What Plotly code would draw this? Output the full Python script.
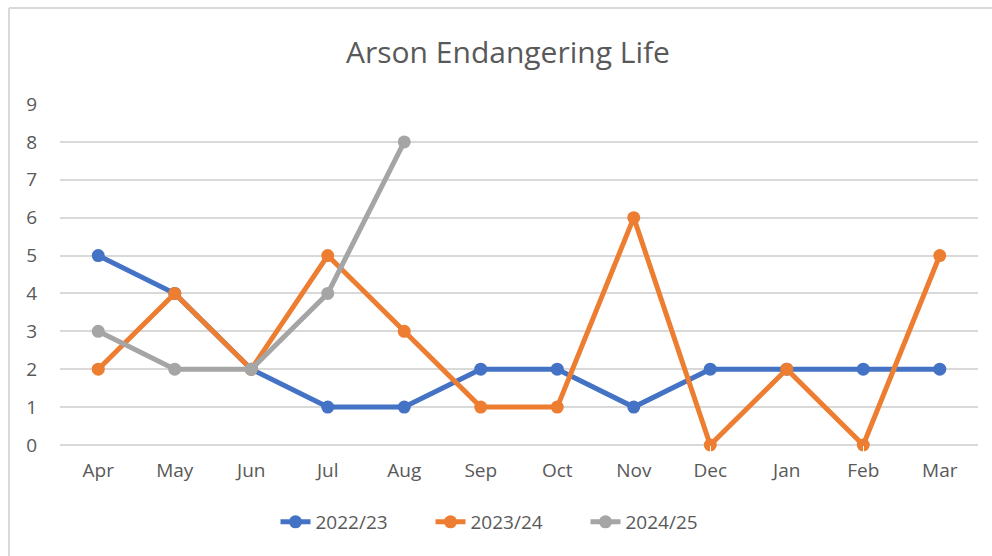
import plotly.graph_objects as go

months = ["Apr", "May", "Jun", "Jul", "Aug", "Sep", "Oct", "Nov", "Dec", "Jan", "Feb", "Mar"]
s2223 = [5, 4, 2, 1, 1, 2, 2, 1, 2, 2, 2, 2]
s2324 = [2, 4, 2, 5, 3, 1, 1, 6, 0, 2, 0, 5]
s2425 = [3, 2, 2, 4, 8]
series = [("2022/23", s2223, "#4472C4"), ("2023/24", s2324, "#ED7D31"), ("2024/25", s2425, "#A5A5A5")]

fig = go.Figure()
for name, vals, col in series:
    fig.add_trace(go.Scatter(
        x=months[:len(vals)], y=vals, name=name, mode="lines+markers", cliponaxis=False,
        line=dict(color=col, width=5), marker=dict(color=col, size=13),
    ))

W, H = 992, 556
L, R, T, B = 60, 14, 104, 111
pw, ph = W - L - R, H - T - B
def px(x): return (x - L) / pw
def py(y): return (H - B - y) / ph

fig.update_layout(
    width=W, height=H,
    margin=dict(l=L, r=R, t=T, b=B),
    paper_bgcolor="white", plot_bgcolor="white",
    font=dict(family="Open Sans, Noto Sans, sans-serif", color="#595959", size=19),
    title=dict(text="Arson Endangering Life", xref="container", x=508 / W, xanchor="center",
               y=1 - 52 / H, yanchor="middle", font=dict(size=30, color="#595959")),
    xaxis=dict(type="category", showgrid=False, showline=False, ticks="outside",
               ticklen=8, tickcolor="white",
               tickfont=dict(size=19, color="#595959"), range=[-0.5, 11.5]),
    yaxis=dict(range=[0, 9], dtick=1, showgrid=True, gridcolor="#D9D9D9", gridwidth=2,
               zeroline=True, zerolinecolor="#D9D9D9", zerolinewidth=2,
               showline=False, ticks="outside", ticklen=18, tickcolor="white",
               tickfont=dict(size=19, color="#595959")),
    legend=dict(orientation="h", x=px(508), xanchor="center", y=py(522), yanchor="middle",
                font=dict(size=19, color="#595959"), bgcolor="rgba(0,0,0,0)",
                entrywidth=110),
    showlegend=True,
    shapes=[
        dict(type="line", xref="paper", yref="paper", x0=px(9), x1=px(9), y0=py(8), y1=py(560),
             line=dict(color="#D9D9D9", width=2)),
        dict(type="line", xref="paper", yref="paper", x0=px(9), x1=px(995), y0=py(8), y1=py(8),
             line=dict(color="#D9D9D9", width=2)),
    ],
)
fig.write_html("out.html", config={"displayModeBar": False},
               post_script="document.body.style.margin='0';document.body.style.overflow='hidden';")
